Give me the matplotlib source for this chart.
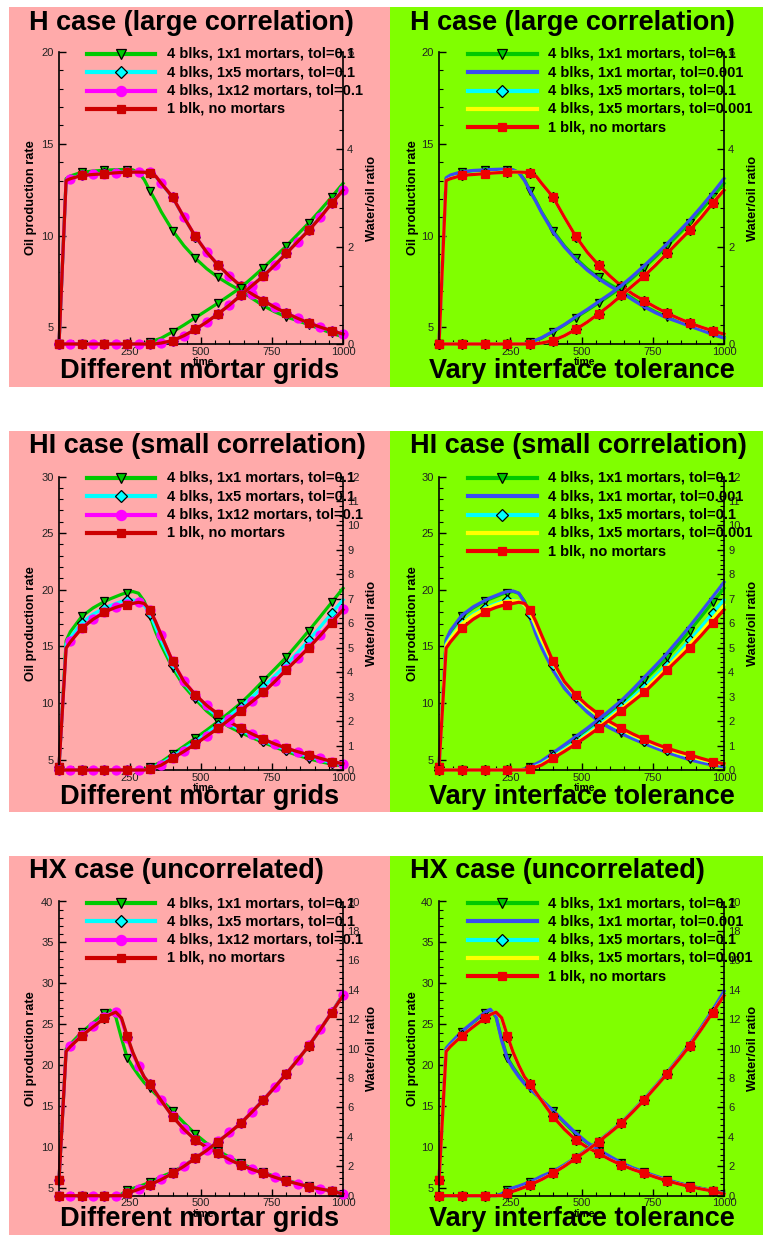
import matplotlib
matplotlib.use("Agg")
import matplotlib.pyplot as plt
from matplotlib.lines import Line2D
from matplotlib.patches import Rectangle
from matplotlib.ticker import MultipleLocator

plt.rcParams["font.family"] = ["Liberation Sans", "DejaVu Sans"]

W, H = 765, 1235

# time axis shared by every curve
time = [0, 25, 40, 80, 120, 160, 180, 200, 220, 240, 260, 280, 300, 320, 340, 360,
        400, 440, 480, 520, 560, 600, 640, 680, 720, 760, 800, 840, 880, 920, 960, 1000]

# ---- H case (large correlation) ----
h_oil_green = [4.1, 13.1, 13.25, 13.45, 13.52, 13.56, 13.58, 13.59, 13.6, 13.6, 13.58, 13.45, 13.05, 12.45, 11.9, 11.3,
               10.28, 9.45, 8.77, 8.2, 7.73, 7.35, 7.0, 6.58, 6.18, 5.85, 5.58, 5.37, 5.15, 4.92, 4.69, 4.49]
h_oil_blue = [4.1, 13.15, 13.3, 13.48, 13.55, 13.58, 13.6, 13.61, 13.62, 13.62, 13.58, 13.42, 13.0, 12.4, 11.85, 11.25,
              10.2, 9.38, 8.7, 8.12, 7.65, 7.25, 6.9, 6.5, 6.12, 5.8, 5.52, 5.3, 5.07, 4.85, 4.62, 4.42]
h_oil_cyan = [4.1, 13.0, 13.12, 13.3, 13.35, 13.39, 13.41, 13.43, 13.45, 13.46, 13.47, 13.47, 13.45, 13.42, 13.22, 12.83,
              12.08, 10.98, 9.95, 9.1, 8.4, 7.8, 7.25, 6.82, 6.45, 6.1, 5.78, 5.5, 5.24, 5.02, 4.82, 4.64]
h_oil_yellow = [4.1, 13.0, 13.11, 13.29, 13.34, 13.38, 13.41, 13.43, 13.45, 13.46, 13.47, 13.47, 13.45, 13.43, 13.23, 12.84,
                12.09, 10.99, 9.96, 9.1, 8.4, 7.8, 7.25, 6.82, 6.45, 6.1, 5.78, 5.5, 5.24, 5.02, 4.82, 4.64]
h_oil_magenta = [4.1, 13.0, 13.1, 13.28, 13.34, 13.38, 13.4, 13.43, 13.45, 13.46, 13.47, 13.47, 13.46, 13.44, 13.25, 12.86,
                 12.1, 11.0, 9.97, 9.12, 8.42, 7.82, 7.26, 6.83, 6.46, 6.11, 5.79, 5.51, 5.25, 5.03, 4.83, 4.65]
h_oil_red = [4.1, 13.0, 13.1, 13.28, 13.33, 13.37, 13.4, 13.42, 13.44, 13.45, 13.46, 13.46, 13.45, 13.43, 13.25, 12.85,
             12.1, 11.0, 9.96, 9.1, 8.4, 7.8, 7.25, 6.82, 6.45, 6.1, 5.78, 5.5, 5.24, 5.02, 4.82, 4.64]

h_wor_green = [0, 0, 0, 0, 0, 0, 0, 0, 0, 0, 0, 0, 0.01, 0.04, 0.08, 0.12,
               0.25, 0.39, 0.54, 0.69, 0.84, 1.0, 1.16, 1.36, 1.57, 1.79, 2.01, 2.25, 2.49, 2.75, 3.02, 3.30]
h_wor_blue = [0, 0, 0, 0, 0, 0, 0, 0, 0, 0, 0, 0, 0.01, 0.04, 0.08, 0.13,
              0.26, 0.40, 0.56, 0.71, 0.87, 1.03, 1.2, 1.4, 1.61, 1.83, 2.06, 2.3, 2.55, 2.82, 3.1, 3.4]
h_wor_cyan = [0, 0, 0, 0, 0, 0, 0, 0, 0, 0, 0, 0, 0, 0, 0.005, 0.02,
              0.07, 0.17, 0.30, 0.45, 0.62, 0.8, 1.0, 1.2, 1.41, 1.63, 1.87, 2.11, 2.35, 2.61, 2.9, 3.17]
h_wor_yellow = [0, 0, 0, 0, 0, 0, 0, 0, 0, 0, 0, 0, 0, 0, 0.005, 0.02,
                0.07, 0.17, 0.30, 0.45, 0.62, 0.8, 1.0, 1.2, 1.41, 1.63, 1.87, 2.11, 2.36, 2.62, 2.91, 3.18]
h_wor_magenta = [0, 0, 0, 0, 0, 0, 0, 0, 0, 0, 0, 0, 0, 0, 0.005, 0.02,
                 0.07, 0.17, 0.30, 0.45, 0.62, 0.8, 1.0, 1.2, 1.40, 1.62, 1.86, 2.1, 2.34, 2.6, 2.89, 3.16]
h_wor_red = [0, 0, 0, 0, 0, 0, 0, 0, 0, 0, 0, 0, 0, 0, 0.005, 0.02,
             0.07, 0.17, 0.30, 0.45, 0.62, 0.8, 1.0, 1.2, 1.40, 1.62, 1.86, 2.1, 2.34, 2.6, 2.89, 3.16]

# ---- HI case (small correlation) ----
hi_oil_green = [4.4, 15.5, 16.3, 17.65, 18.4, 18.97, 19.2, 19.4, 19.6, 19.76, 19.85, 19.7, 19.0, 17.7, 16.3, 15.1,
                13.1, 11.5, 10.35, 9.3, 8.5, 7.9, 7.4, 6.95, 6.53, 6.12, 5.74, 5.4, 5.09, 4.83, 4.62, 4.45]
hi_oil_blue = [4.4, 15.6, 16.4, 17.75, 18.5, 19.05, 19.3, 19.5, 19.7, 19.85, 19.9, 19.7, 18.9, 17.5, 16.1, 14.9,
               12.9, 11.3, 10.2, 9.2, 8.4, 7.8, 7.3, 6.85, 6.43, 6.03, 5.65, 5.32, 5.0, 4.75, 4.54, 4.38]
hi_oil_cyan = [4.4, 15.2, 15.8, 17.1, 17.85, 18.4, 18.6, 18.8, 18.98, 19.1, 19.1, 19.0, 18.6, 17.9, 16.7, 15.5,
               13.4, 11.8, 10.55, 9.6, 8.8, 8.15, 7.62, 7.12, 6.68, 6.27, 5.9, 5.57, 5.27, 4.99, 4.75, 4.56]
hi_oil_yellow = [4.4, 15.1, 15.7, 17.0, 17.75, 18.3, 18.5, 18.7, 18.88, 19.0, 19.05, 19.0, 18.65, 17.95, 16.8, 15.6,
                 13.5, 11.85, 10.6, 9.65, 8.85, 8.2, 7.66, 7.16, 6.72, 6.3, 5.93, 5.6, 5.3, 5.02, 4.78, 4.58]
hi_oil_magenta = [4.4, 14.9, 15.5, 16.65, 17.45, 18.05, 18.3, 18.5, 18.65, 18.72, 18.82, 18.9, 18.78, 18.2, 17.2, 16.0,
                  13.7, 11.95, 10.75, 9.8, 9.03, 8.35, 7.79, 7.28, 6.82, 6.4, 6.03, 5.72, 5.44, 5.13, 4.85, 4.65]
hi_oil_red = [4.4, 14.85, 15.4, 16.6, 17.4, 18.0, 18.25, 18.45, 18.6, 18.68, 18.8, 18.9, 18.8, 18.24, 17.2, 16.0,
              13.68, 11.9, 10.74, 9.8, 9.03, 8.35, 7.79, 7.28, 6.82, 6.4, 6.03, 5.72, 5.44, 5.13, 4.85, 4.65]

hi_wor_green = [0, 0, 0, 0, 0, 0, 0, 0, 0, 0, 0, 0, 0.03, 0.12, 0.22, 0.33,
                0.65, 0.97, 1.30, 1.63, 1.98, 2.35, 2.73, 3.18, 3.66, 4.13, 4.61, 5.15, 5.70, 6.27, 6.85, 7.43]
hi_wor_blue = [0, 0, 0, 0, 0, 0, 0, 0, 0, 0, 0, 0, 0.04, 0.14, 0.25, 0.37,
               0.70, 1.03, 1.37, 1.71, 2.07, 2.45, 2.84, 3.3, 3.79, 4.27, 4.77, 5.32, 5.88, 6.47, 7.07, 7.68]
hi_wor_cyan = [0, 0, 0, 0, 0, 0, 0, 0, 0, 0, 0, 0, 0, 0.08, 0.16, 0.26,
               0.56, 0.86, 1.16, 1.50, 1.85, 2.21, 2.59, 2.99, 3.41, 3.85, 4.30, 4.80, 5.32, 5.85, 6.41, 6.96]
hi_wor_yellow = [0, 0, 0, 0, 0, 0, 0, 0, 0, 0, 0, 0, 0, 0.06, 0.14, 0.23,
                 0.52, 0.81, 1.11, 1.44, 1.78, 2.13, 2.51, 2.89, 3.29, 3.73, 4.19, 4.67, 5.16, 5.67, 6.2, 6.75]
hi_wor_magenta = [0, 0, 0, 0, 0, 0, 0, 0, 0, 0, 0, 0, 0, 0.05, 0.12, 0.21,
                  0.49, 0.77, 1.07, 1.39, 1.72, 2.07, 2.44, 2.81, 3.19, 3.64, 4.11, 4.57, 5.03, 5.53, 6.06, 6.6]
hi_wor_red = [0, 0, 0, 0, 0, 0, 0, 0, 0, 0, 0, 0, 0, 0.05, 0.12, 0.2,
              0.48, 0.76, 1.06, 1.38, 1.71, 2.06, 2.43, 2.8, 3.17, 3.62, 4.09, 4.54, 5.0, 5.5, 6.03, 6.55]

# ---- HX case (uncorrelated) ----
hx_oil_green = [6.0, 22.0, 22.6, 24.05, 25.2, 26.36, 26.75, 25.9, 23.3, 20.95, 19.8, 18.8, 17.9, 17.2, 16.5, 15.8,
                14.44, 13.0, 11.63, 10.5, 9.6, 8.8, 8.05, 7.45, 6.95, 6.45, 6.0, 5.62, 5.28, 4.98, 4.71, 4.4]
hx_oil_blue = [6.0, 22.1, 22.7, 24.15, 25.3, 26.45, 26.85, 26.0, 23.0, 20.8, 19.6, 18.6, 17.75, 17.1, 16.45, 15.8,
               14.5, 13.1, 11.75, 10.6, 9.7, 8.9, 8.12, 7.5, 7.0, 6.5, 6.05, 5.66, 5.3, 5.0, 4.72, 4.4]
hx_oil_cyan = [6.0, 21.75, 22.35, 23.65, 24.75, 25.8, 26.25, 26.5, 25.7, 23.5, 21.5, 19.95, 18.6, 17.7, 16.7, 15.7,
               13.78, 12.22, 10.92, 10.0, 9.28, 8.5, 7.86, 7.3, 6.83, 6.35, 5.9, 5.55, 5.2, 4.92, 4.67, 4.3]
hx_oil_yellow = [6.0, 21.7, 22.3, 23.6, 24.7, 25.75, 26.2, 26.5, 25.75, 23.55, 21.55, 20.0, 18.6, 17.7, 16.7, 15.7,
                 13.76, 12.2, 10.9, 10.0, 9.27, 8.5, 7.85, 7.3, 6.83, 6.35, 5.9, 5.55, 5.2, 4.92, 4.67, 4.3]
hx_oil_magenta = [6.0, 21.8, 22.4, 23.7, 24.8, 25.85, 26.3, 26.55, 25.6, 23.3, 21.4, 19.9, 18.55, 17.7, 16.75, 15.75,
                  13.8, 12.25, 10.95, 10.05, 9.3, 8.52, 7.87, 7.32, 6.85, 6.37, 5.92, 5.57, 5.22, 4.94, 4.68, 4.32]
hx_oil_red = [6.0, 21.7, 22.3, 23.6, 24.7, 25.75, 26.2, 26.5, 25.8, 23.6, 21.6, 20.0, 18.6, 17.7, 16.7, 15.7,
              13.75, 12.2, 10.9, 10.0, 9.27, 8.5, 7.85, 7.3, 6.83, 6.35, 5.9, 5.55, 5.2, 4.92, 4.67, 4.3]

hx_wor_green = [0, 0, 0, 0, 0, 0, 0, 0, 0.1, 0.39, 0.5, 0.62, 0.76, 0.91, 1.1, 1.3,
                1.6, 2.05, 2.55, 3.1, 3.67, 4.28, 4.92, 5.7, 6.51, 7.38, 8.28, 9.22, 10.2, 11.3, 12.45, 13.7]
hx_wor_blue = [0, 0, 0, 0, 0, 0, 0, 0, 0.12, 0.42, 0.54, 0.66, 0.8, 0.95, 1.13, 1.33,
               1.65, 2.1, 2.6, 3.15, 3.72, 4.34, 4.98, 5.77, 6.58, 7.46, 8.37, 9.32, 10.32, 11.45, 12.62, 13.9]
hx_wor_cyan = [0, 0, 0, 0, 0, 0, 0, 0, 0, 0.17, 0.31, 0.44, 0.59, 0.74, 0.93, 1.11,
               1.53, 2.01, 2.55, 3.09, 3.68, 4.29, 4.93, 5.71, 6.52, 7.39, 8.29, 9.23, 10.21, 11.31, 12.46, 13.62]
hx_wor_yellow = [0, 0, 0, 0, 0, 0, 0, 0, 0, 0.16, 0.3, 0.43, 0.58, 0.73, 0.92, 1.1,
                 1.52, 2.0, 2.54, 3.08, 3.67, 4.28, 4.92, 5.7, 6.51, 7.38, 8.28, 9.22, 10.2, 11.3, 12.45, 13.6]
hx_wor_magenta = [0, 0, 0, 0, 0, 0, 0, 0, 0, 0.18, 0.32, 0.45, 0.6, 0.75, 0.94, 1.12,
                  1.54, 2.02, 2.56, 3.1, 3.69, 4.3, 4.94, 5.72, 6.53, 7.4, 8.3, 9.24, 10.22, 11.32, 12.47, 13.62]
hx_wor_red = [0, 0, 0, 0, 0, 0, 0, 0, 0, 0.16, 0.3, 0.43, 0.58, 0.73, 0.92, 1.1,
              1.52, 2.0, 2.54, 3.08, 3.67, 4.28, 4.92, 5.7, 6.51, 7.38, 8.28, 9.22, 10.2, 11.3, 12.45, 13.6]

titles = ["H case (large correlation)", "HI case (small correlation)", "HX case (uncorrelated)"]
subtitles = ["Different mortar grids", "Vary interface tolerance"]
oil_tops = [20, 30, 40]
wor_tops = [6, 12, 20]
wor_steps = [2, 1, 2]

labels = {
    "green": "4 blks, 1x1 mortars, tol=0.1",
    "blue": "4 blks, 1x1 mortar, tol=0.001",
    "cyan": "4 blks, 1x5 mortars, tol=0.1",
    "yellow": "4 blks, 1x5 mortars, tol=0.001",
    "magenta": "4 blks, 1x12 mortars, tol=0.1",
    "red": "1 blk, no mortars",
}

PINK = "#FFAAAA"
LIME = "#80FF00"

idx80 = [i for i, t in enumerate(time) if t % 80 == 0]
idx40 = [i for i, t in enumerate(time) if t % 40 == 0]

styles = {
    "green": dict(color="#00C800", marker="v", ms=6.3, mfc="#00C800", mec="black", every=idx80),
    "blue": dict(color="#3a4cf0", marker=None, ms=0, mfc="none", mec="none", every=None),
    "cyan": dict(color="#00FFFF", marker="D", ms=5.2, mfc="#00FFFF", mec="black", every=idx80),
    "yellow": dict(color="#FFFF00", marker=None, ms=0, mfc="none", mec="none", every=None),
    "magenta": dict(color="#FF00FF", marker="o", ms=6.5, mfc="#FF00FF", mec="#FF00FF", every=idx40),
    "red": dict(color="#CC0000", marker="s", ms=5.2, mfc="#CC0000", mec="#CC0000", every=idx80),
}
red_right = "#EE0000"

cases = [
    dict(oil=dict(green=h_oil_green, blue=h_oil_blue, cyan=h_oil_cyan, yellow=h_oil_yellow,
                  magenta=h_oil_magenta, red=h_oil_red),
         wor=dict(green=h_wor_green, blue=h_wor_blue, cyan=h_wor_cyan, yellow=h_wor_yellow,
                  magenta=h_wor_magenta, red=h_wor_red)),
    dict(oil=dict(green=hi_oil_green, blue=hi_oil_blue, cyan=hi_oil_cyan, yellow=hi_oil_yellow,
                  magenta=hi_oil_magenta, red=hi_oil_red),
         wor=dict(green=hi_wor_green, blue=hi_wor_blue, cyan=hi_wor_cyan, yellow=hi_wor_yellow,
                  magenta=hi_wor_magenta, red=hi_wor_red)),
    dict(oil=dict(green=hx_oil_green, blue=hx_oil_blue, cyan=hx_oil_cyan, yellow=hx_oil_yellow,
                  magenta=hx_oil_magenta, red=hx_oil_red),
         wor=dict(green=hx_wor_green, blue=hx_wor_blue, cyan=hx_wor_cyan, yellow=hx_wor_yellow,
                  magenta=hx_wor_magenta, red=hx_wor_red)),
]
col_series = [["green", "cyan", "magenta", "red"],
              ["green", "blue", "cyan", "yellow", "red"]]

# pixel layout (top-left origin)
rows = [(7, 387), (431, 812), (856, 1235)]
cols = [(9, 390), (390, 763)]
axes_x = [(59, 343), (439, 724)]
axes_y = [(52, 344), (476.5, 770), (901.5, 1195.7)]
legend_x = [(87, 155, 121, 167), (468, 537, 502, 548)]
oil_label_x = [31, 413]
wor_label_x = [372, 753]
sub_cx = [199.5, 581.5]


def fx(px):
    return px / W


def fy(py):
    return 1 - py / H


def pick(name, c, key):
    # the right-hand panels use a brighter red
    if name == "red" and c == 1:
        return red_right
    return styles[name][key]


fig = plt.figure(figsize=(W / 100, H / 100), dpi=100)

for r in range(3):
    top, bot = rows[r]
    ay0, ay1 = axes_y[r]
    for c in range(2):
        left, right = cols[c]
        fig.add_artist(Rectangle((fx(left), fy(bot)), (right - left) / W, (bot - top) / H,
                                 transform=fig.transFigure, color=PINK if c == 0 else LIME,
                                 zorder=-1, lw=0))
        ax0, ax1 = axes_x[c]
        ax = fig.add_axes([fx(ax0), fy(ay1), (ax1 - ax0) / W, (ay1 - ay0) / H])
        ax.set_facecolor("none")
        ax2 = ax.twinx()
        ax2.set_facecolor("none")

        for z, name in enumerate(col_series[c]):
            st = styles[name]
            for target, values in ((ax, cases[r]["oil"][name]), (ax2, cases[r]["wor"][name])):
                target.plot(time, values, color=pick(name, c, "color"), lw=2.3, marker=st["marker"],
                            ms=st["ms"], mfc=pick(name, c, "mfc"), mec=pick(name, c, "mec"), mew=0.9,
                            markevery=st["every"], zorder=2 + z * 0.1, clip_on=False)

        ax.set_xlim(0, 1000)
        ax.set_ylim(4.1, oil_tops[r])
        ax.set_xticks([250, 500, 750, 1000])
        ax.xaxis.set_minor_locator(MultipleLocator(50))
        ax.set_yticks(list(range(5, oil_tops[r] + 1, 5)))
        ax.yaxis.set_minor_locator(MultipleLocator(1))
        ax2.set_ylim(0, wor_tops[r])
        ax2.yaxis.set_major_locator(MultipleLocator(wor_steps[r]))
        ax2.yaxis.set_minor_locator(MultipleLocator(wor_steps[r] / 5))

        for a in (ax, ax2):
            a.tick_params(which="both", direction="in", labelsize=8, labelcolor="#222222")
            a.tick_params(which="major", length=5, width=1)
            a.tick_params(which="minor", length=3, width=0.8)
            a.spines["top"].set_visible(False)
            for s in a.spines.values():
                s.set_linewidth(1.2)
        ax.tick_params(axis="y", pad=4, right=False)
        ax.tick_params(axis="x", pad=2, top=False)
        ax2.tick_params(axis="y", pad=3)
        ax.spines["right"].set_visible(False)
        ax2.spines["left"].set_visible(False)
        ax2.spines["bottom"].set_visible(False)

        # labels
        cy = (ay0 + ay1) / 2
        fig.text(fx(oil_label_x[c]), fy(cy), "Oil production rate", rotation=90,
                 ha="center", va="center", fontsize=9.3, fontweight="bold")
        fig.text(fx(wor_label_x[c]), fy(cy), "Water/oil ratio", rotation=90,
                 ha="center", va="center", fontsize=9.3, fontweight="bold")
        fig.text(fx((ax0 + ax1) / 2 + 3), fy(ay1 + 18), "time", ha="center", va="center",
                 fontsize=7.5, fontweight="bold", zorder=3)
        fig.text(fx(left + 20), fy(top + 22.5), titles[r], ha="left", va="baseline",
                 fontsize=19.5, fontweight="bold", zorder=5)
        fig.text(fx(sub_cx[c]), fy(bot - 8.5), subtitles[c], ha="center", va="baseline",
                 fontsize=19.5, fontweight="bold", zorder=5)

        # legend
        lx0, lx1, mx, tx = legend_x[c]
        for i, name in enumerate(col_series[c]):
            st = styles[name]
            y = top + 47 + 18.3 * i
            fig.add_artist(Line2D([fx(lx0), fx(lx1)], [fy(y), fy(y)], transform=fig.transFigure,
                                  color=pick(name, c, "color"), lw=3, zorder=4))
            if st["marker"]:
                fig.add_artist(Line2D([fx(mx)], [fy(y)], transform=fig.transFigure, marker=st["marker"],
                                      ms=st["ms"] + 0.8, mfc=pick(name, c, "mfc"), mec=pick(name, c, "mec"),
                                      mew=0.9, zorder=4.1))
            fig.text(fx(tx), fy(y), labels[name], ha="left", va="center",
                     fontsize=10.5, fontweight="bold", zorder=5)

fig.savefig("out.png", dpi=100)
